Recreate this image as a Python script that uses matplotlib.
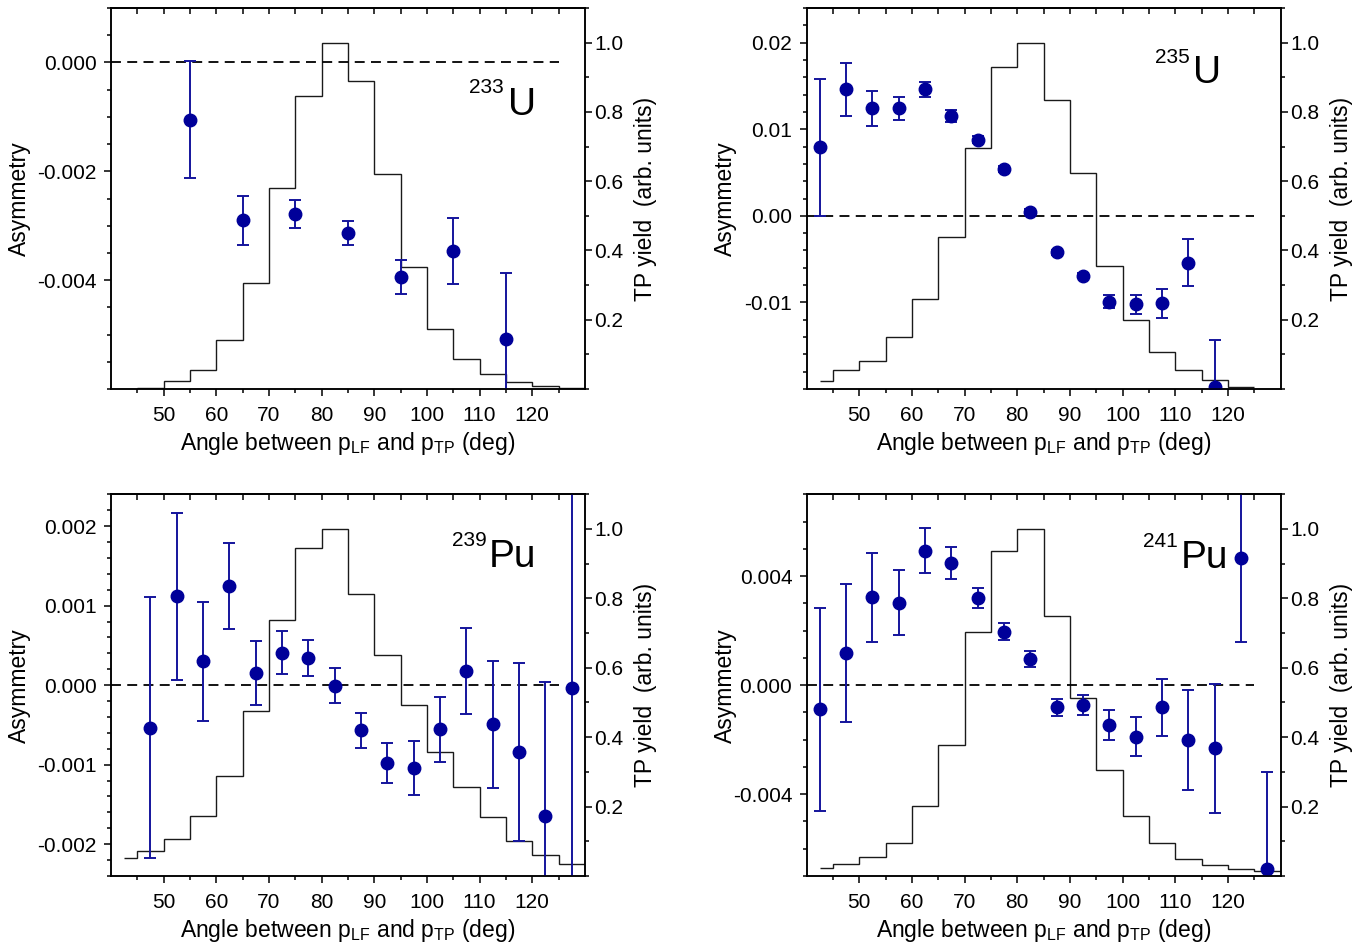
import numpy as np
import matplotlib
matplotlib.use('Agg')
import matplotlib.pyplot as plt
from matplotlib.ticker import MultipleLocator, FixedLocator

plt.rcParams['font.family'] = ['Liberation Sans', 'DejaVu Sans']
plt.rcParams['mathtext.fontset'] = 'custom'
plt.rcParams['mathtext.rm'] = 'Liberation Sans'
plt.rcParams['mathtext.it'] = 'Liberation Sans:italic'

# ---------------- data ----------------
# 233U
u233_angle = [55, 65, 75, 85, 95, 105, 115]
u233_asym = [-0.00105, -0.0029, -0.00279, -0.00313, -0.00394, -0.00346, -0.00508]
u233_err = [0.00107, 0.00045, 0.00026, 0.00022, 0.00031, 0.00061, 0.00121]
u233_edges = [45, 50, 55, 60, 65, 70, 75, 80, 85, 90, 95, 100, 105, 110, 115, 120, 125, 130]
u233_yield = [0.004, 0.023, 0.055, 0.141, 0.306, 0.581, 0.845, 1.0, 0.89, 0.62,
              0.352, 0.172, 0.086, 0.042, 0.021, 0.009, 0.002]

# 235U
u235_angle = [42.5, 47.5, 52.5, 57.5, 62.5, 67.5, 72.5, 77.5, 82.5, 87.5,
              92.5, 97.5, 102.5, 107.5, 112.5, 117.5]
u235_asym = [0.0079, 0.0146, 0.0124, 0.0124, 0.0146, 0.0115, 0.0088, 0.0054,
             0.0005, -0.0042, -0.0069, -0.0099, -0.0102, -0.0101, -0.0054, -0.0198]
u235_err = [0.0079, 0.0031, 0.0020, 0.0013, 0.0009, 0.0007, 0.0004, 0.0003,
            0.0003, 0.0003, 0.0003, 0.0007, 0.0011, 0.0017, 0.0027, 0.0055]
u235_edges = [42.5, 45, 50, 55, 60, 65, 70, 75, 80, 85, 90, 95, 100, 105, 110, 115, 120, 125]
u235_yield = [0.024, 0.056, 0.082, 0.150, 0.260, 0.438, 0.696, 0.930, 1.0, 0.834,
              0.625, 0.355, 0.200, 0.108, 0.056, 0.027, 0.006]

# 239Pu
pu239_angle = [47.5, 52.5, 57.5, 62.5, 67.5, 72.5, 77.5, 82.5, 87.5, 92.5,
               97.5, 102.5, 107.5, 112.5, 117.5, 122.5, 127.5]
pu239_asym = [-0.000535, 0.00112, 0.0003, 0.00125, 0.000155, 0.000406, 0.000343,
              -0.00001, -0.000568, -0.000982, -0.00104, -0.000556, 0.000176,
              -0.000493, -0.00084, -0.00165, -0.00003]
pu239_err = [0.00164, 0.00105, 0.00075, 0.00054, 0.0004, 0.00027, 0.00023, 0.00022,
             0.00022, 0.00025, 0.00034, 0.00041, 0.00054, 0.0008, 0.00112, 0.00169, 0.003]
pu239_edges = [42.5, 45, 50, 55, 60, 65, 70, 75, 80, 85, 90, 95, 100, 105, 110, 115, 120, 125, 130]
pu239_yield = [0.053, 0.073, 0.107, 0.173, 0.289, 0.476, 0.737, 0.945, 1.0, 0.813,
               0.638, 0.492, 0.357, 0.256, 0.169, 0.101, 0.061, 0.034]

# 241Pu
pu241_angle = [42.5, 47.5, 52.5, 57.5, 62.5, 67.5, 72.5, 77.5, 82.5, 87.5,
               92.5, 97.5, 102.5, 107.5, 112.5, 117.5, 122.5, 127.5]
pu241_asym = [-0.00088, 0.00118, 0.00323, 0.00302, 0.00493, 0.00449, 0.0032, 0.00196,
              0.00097, -0.00082, -0.00072, -0.00146, -0.00189, -0.00082, -0.00201,
              -0.00232, 0.00465, -0.00674]
pu241_err = [0.00372, 0.00253, 0.00163, 0.00119, 0.00082, 0.00059, 0.00037, 0.00031,
             0.0003, 0.0003, 0.00036, 0.00054, 0.00072, 0.00104, 0.00184, 0.00237,
             0.00305, 0.00356]
pu241_edges = [42.5, 45, 50, 55, 60, 65, 70, 75, 80, 85, 90, 95, 100, 105, 110, 115, 120, 125, 130]
pu241_yield = [0.024, 0.036, 0.055, 0.096, 0.201, 0.377, 0.703, 0.936, 1.0, 0.748,
               0.513, 0.305, 0.172, 0.096, 0.048, 0.031, 0.021, 0.014]

x_major = [50, 60, 70, 80, 90, 100, 110, 120]
yield_ticks = [0.2, 0.4, 0.6, 0.8, 1.0]
yield_labels = ['0.2', '0.4', '0.6', '0.8', '1.0']

u233_ticks = [-0.004, -0.002, 0.0]
u233_labels = ['-0.004', '-0.002', '0.000']
u235_ticks = [-0.01, 0.0, 0.01, 0.02]
u235_labels = ['-0.01', '0.00', '0.01', '0.02']
pu239_ticks = [-0.002, -0.001, 0.0, 0.001, 0.002]
pu239_labels = ['-0.002', '-0.001', '0.000', '0.001', '0.002']
pu241_ticks = [-0.004, 0.0, 0.004]
pu241_labels = ['-0.004', '0.000', '0.004']

# ---------------- figure ----------------
fig = plt.figure(figsize=(13.67, 9.46), dpi=100)

panels = [
    dict(rect=[0.0812, 0.5888, 0.3467, 0.4027], x=u233_angle, y=u233_asym, e=u233_err,
         edges=u233_edges, h=u233_yield, ylim=(-0.006, 0.001), ticks=u233_ticks,
         labels=u233_labels, minor=0.0005, mass='233', elem='U',
         lab=(0.8376, 0.719), sup=(0.829, 0.777), ylx=-0.169),
    dict(rect=[0.5901, 0.5888, 0.3467, 0.4027], x=u235_angle, y=u235_asym, e=u235_err,
         edges=u235_edges, h=u235_yield, ylim=(-0.02, 0.024), ticks=u235_ticks,
         labels=u235_labels, minor=0.002, mass='235', elem='U',
         lab=(0.8143, 0.803), sup=(0.8087, 0.857), ylx=-0.147),
    dict(rect=[0.0812, 0.0740, 0.3467, 0.4035], x=pu239_angle, y=pu239_asym, e=pu239_err,
         edges=pu239_edges, h=pu239_yield, ylim=(-0.0024, 0.0024), ticks=pu239_ticks,
         labels=pu239_labels, minor=0.0002, mass='239', elem='Pu',
         lab=(0.798, 0.810), sup=(0.793, 0.8646), ylx=-0.169),
    dict(rect=[0.5901, 0.0740, 0.3467, 0.4035], x=pu241_angle, y=pu241_asym, e=pu241_err,
         edges=pu241_edges, h=pu241_yield, ylim=(-0.007, 0.007), ticks=pu241_ticks,
         labels=pu241_labels, minor=0.001, mass='241', elem='Pu',
         lab=(0.789, 0.806), sup=(0.783, 0.8626), ylx=-0.147),
]

pt_color = '#000099'
bar_color = '#14149c'
tick_fs = 15
label_fs = 16.5
lw_sp = 1.1

for p in panels:
    ax = fig.add_axes(p['rect'])
    ax2 = ax.twinx()
    ax2.stairs(p['h'], p['edges'], baseline=None, color='#1a1a1a', lw=1.0)
    ax.set_zorder(ax2.get_zorder() + 1)
    ax.patch.set_visible(False)

    ax.hlines(0, 40, 125, colors='black', linestyles=(0, (5.5, 3.5)), lw=1.3)
    ax.errorbar(p['x'], p['y'], yerr=p['e'], fmt='o', color=pt_color, ecolor=bar_color,
                ms=9, elinewidth=1.4, capsize=4.5, capthick=1.4)

    ax.set_xlim(40, 130)
    ax.set_ylim(*p['ylim'])
    ax2.set_ylim(0, 1.1)

    ax.set_xticks(x_major)
    ax.set_xticklabels([str(v) for v in x_major])
    ax.xaxis.set_minor_locator(FixedLocator(np.arange(45, 130, 10)))
    ax.set_yticks(p['ticks'])
    ax.set_yticklabels(p['labels'])
    ax.yaxis.set_minor_locator(MultipleLocator(p['minor']))
    ax2.set_yticks(yield_ticks)
    ax2.set_yticklabels(yield_labels)
    ax2.yaxis.set_minor_locator(MultipleLocator(0.1))

    for a in (ax, ax2):
        a.tick_params(which='major', direction='out', length=4.8, width=lw_sp,
                      labelsize=tick_fs, pad=2)
        a.tick_params(which='minor', direction='out', length=3.2, width=lw_sp)
        for s in a.spines.values():
            s.set_linewidth(lw_sp)
    ax.tick_params(axis='x', which='both', top=False)
    ax.tick_params(axis='x', which='major', pad=7.5)
    ax.tick_params(axis='y', which='major', pad=5.5)

    sec = ax.secondary_xaxis('top')
    sec.set_xticks(np.arange(45, 130, 5))
    sec.tick_params(axis='x', which='both', direction='in', length=4.5, width=lw_sp,
                    labeltop=False, labelbottom=False)
    sec.spines['top'].set_linewidth(lw_sp)

    ax.set_xlabel(r'Angle between p$_{\mathregular{LF}}$ and p$_{\mathregular{TP}}$ (deg)',
                  fontsize=label_fs)
    ax.xaxis.set_label_coords(0.5, -0.108)
    ax.set_ylabel('Asymmetry', fontsize=label_fs)
    ax.yaxis.set_label_coords(p['ylx'], 0.5)
    ax2.set_ylabel('TP yield  (arb. units)', fontsize=label_fs)
    ax2.yaxis.set_label_coords(1.104, 0.5)

    ax.text(p['lab'][0], p['lab'][1], p['elem'], transform=ax.transAxes,
            fontsize=28, ha='left', va='baseline')
    ax.text(p['sup'][0], p['sup'][1], p['mass'], transform=ax.transAxes,
            fontsize=15, ha='right', va='baseline')

fig.savefig('out.png', dpi=100)
